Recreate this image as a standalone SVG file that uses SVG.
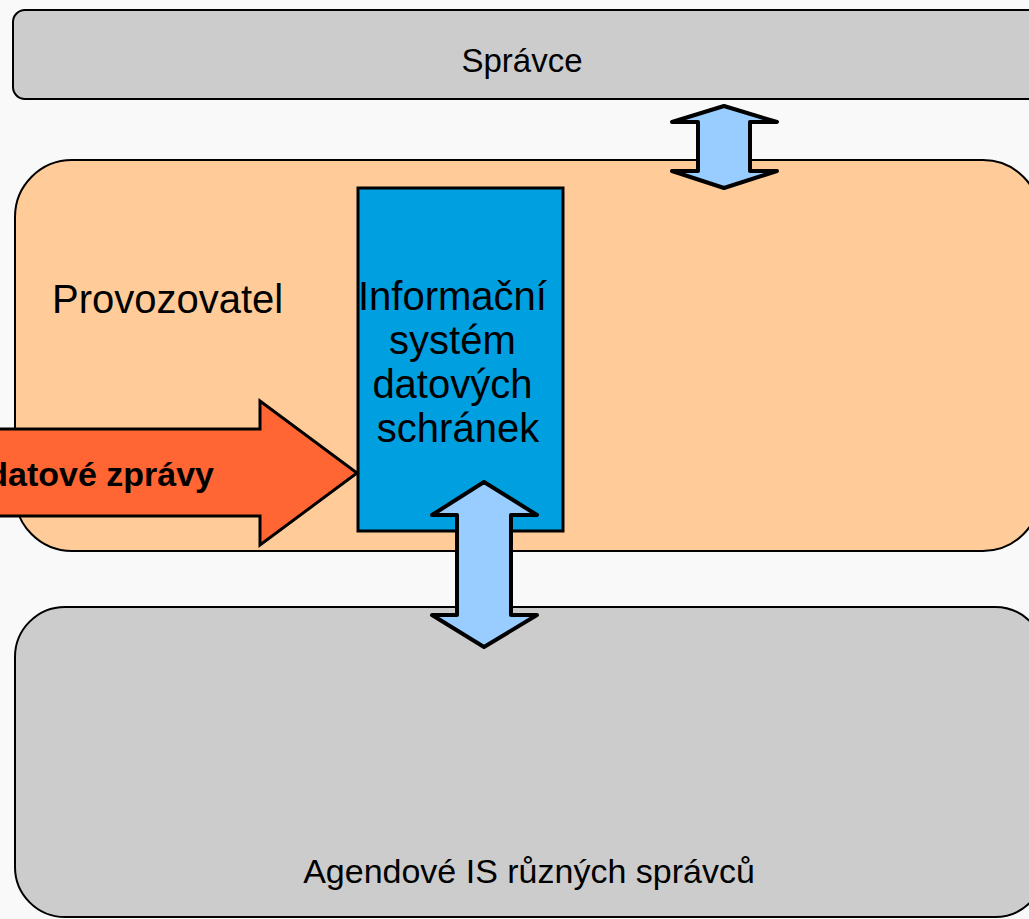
<svg xmlns="http://www.w3.org/2000/svg" width="1029" height="919" viewBox="0 0 1029 919">
  <style>
    .box { stroke: #000; stroke-width: 2; }
    .dbl { fill: #99ccff; stroke: #000; stroke-width: 4; stroke-linejoin: round; }
    .lbl { font-family: "Liberation Sans", Arial, sans-serif; fill: #000; }
  </style>
  <rect x="0" y="0" width="1029" height="919" fill="#f9f9f9"/>
  <g id="spravce">
    <rect class="box" x="13" y="10" width="1040" height="89" rx="12" fill="#cccccc"/>
    <text class="lbl" x="522" y="72" font-size="33" text-anchor="middle">Správce</text>
  </g>
  <g id="provozovatel">
    <rect class="box" x="15" y="160" width="1025" height="391" rx="57" fill="#ffcc99"/>
    <text class="lbl" x="52" y="313" font-size="40">Provozovatel</text>
  </g>
  <g id="agendove">
    <rect class="box" x="15" y="607" width="1030" height="310" rx="50" fill="#cccccc"/>
    <text class="lbl" x="529" y="883" font-size="34" text-anchor="middle">Agendové IS různých správců</text>
  </g>
  <g id="isds">
    <rect x="358" y="188" width="205" height="343" fill="#009fdf" stroke="#000" stroke-width="3"/>
    <text class="lbl" font-size="40" text-anchor="middle">
      <tspan x="458" y="310">Informační</tspan>
      <tspan x="458" y="354">systém</tspan>
      <tspan x="458" y="398">datových</tspan>
      <tspan x="458" y="442">schránek</tspan>
    </text>
  </g>
  <g id="connectors">
    <g id="datove-zpravy">
      <path d="M-10,429 L260,429 L260,401 L357,473 L260,545 L260,516 L-10,516 Z" fill="#ff6633" stroke="#000" stroke-width="3" stroke-linejoin="miter"/>
      <text class="lbl" x="214" y="486" font-size="34" font-weight="bold" text-anchor="end">datové zprávy</text>
    </g>
    <path class="dbl" d="M724,106 L777,122 L750,122 L750,171 L777,171 L724,188 L672,171 L698,171 L698,122 L672,122 Z"/>
    <path class="dbl" d="M484,482 L537,515 L511,515 L511,615 L537,615 L484,647 L432,615 L457,615 L457,515 L432,515 Z"/>
  </g>
</svg>
